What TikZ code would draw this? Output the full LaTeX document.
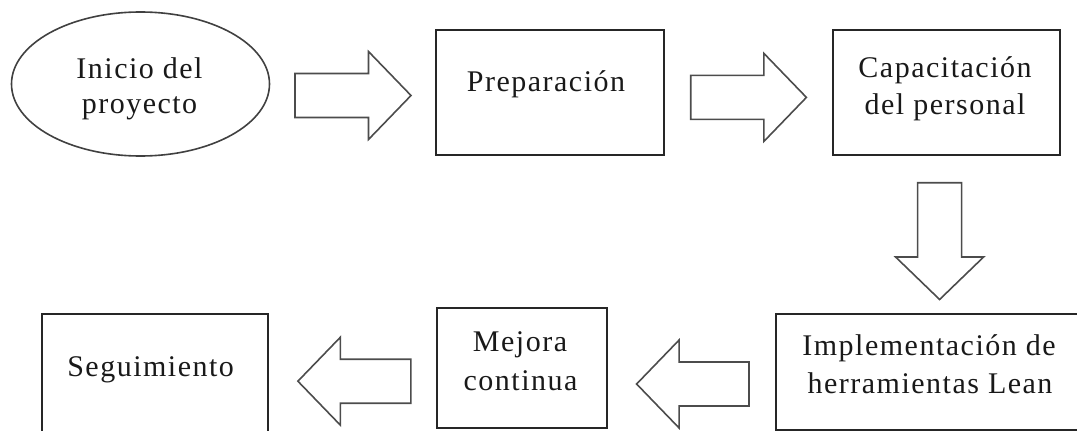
\documentclass[tikz,border=0pt]{standalone}
\usepackage{fontspec}
\setmainfont{Liberation Serif}[LetterSpace=5]
\usetikzlibrary{shapes.geometric}
\tikzset{
  x=1pt, y=-1pt,
  boxline/.style={draw=black!85, line width=2pt},
  box/.style={boxline, rectangle, inner sep=0pt},
  oval/.style={draw=black!75, line width=1.6pt, ellipse, inner sep=0pt},
  txt/.style={inner sep=0pt, anchor=base, font=\fontsize{30}{36}\selectfont, text=black!90},
  arrowline/.style={draw=black!70, line width=1.6pt, fill=white, line join=miter},
  pics/blockarrow/.style={code={
    \draw[arrowline] (0,0) -- (-42.5,44) -- (-42.5,22) -- (-#1,22) -- (-#1,-22)
      -- (-42.5,-22) -- (-42.5,-44) -- cycle;
  }}
}
\begin{document}
\begin{tikzpicture}
\useasboundingbox (0,0) rectangle (1077,431);
\clip (0,0) rectangle (1077,431);
% shapes
\node[oval, minimum width=258pt, minimum height=144pt] (inicio) at (140.5,84) {};
\node[box, minimum width=228pt, minimum height=125pt] (prep) at (550.3,92.5) {};
\node[box, minimum width=227pt, minimum height=125pt] (capa) at (946.3,92.4) {};
\node[box, minimum width=310pt, minimum height=116pt] (impl) at (930.6,371.7) {};
\node[box, minimum width=170pt, minimum height=120pt] (mejora) at (522.2,368) {};
\node[box, minimum width=226pt, minimum height=125pt] (segui) at (155.4,376) {};
% texts
\node[txt] (inicio1) at (139.5,78.5) {Inicio del};
\node[txt] (inicio2) at (139.5,113.5) {proyecto};
\node[txt] (prep1) at (546,91.3) {Preparación};
\node[txt] (capa1) at (945,77) {Capacitación};
\node[txt] (capa2) at (945,114.7) {del personal};
\node[txt] (impl1) at (929,355) {Implementación de};
\node[txt] (impl2) at (930,393) {herramientas Lean};
\node[txt] (mejora1) at (520,351.7) {Mejora};
\node[txt] (mejora2) at (520.5,390) {continua};
\node[txt] (segui1) at (150.6,376.4) {Seguimiento};
% block arrows
\pic at (411,95.5) {blockarrow=116};
\pic at (806.4,97.4) {blockarrow=115.7};
\pic[rotate=-90] at (939.6,299.5) {blockarrow=116.8};
\pic[rotate=180] at (636.6,384) {blockarrow=112.4};
\pic[rotate=180] at (297.9,381.2) {blockarrow=112.9};
\end{tikzpicture}
\end{document}
